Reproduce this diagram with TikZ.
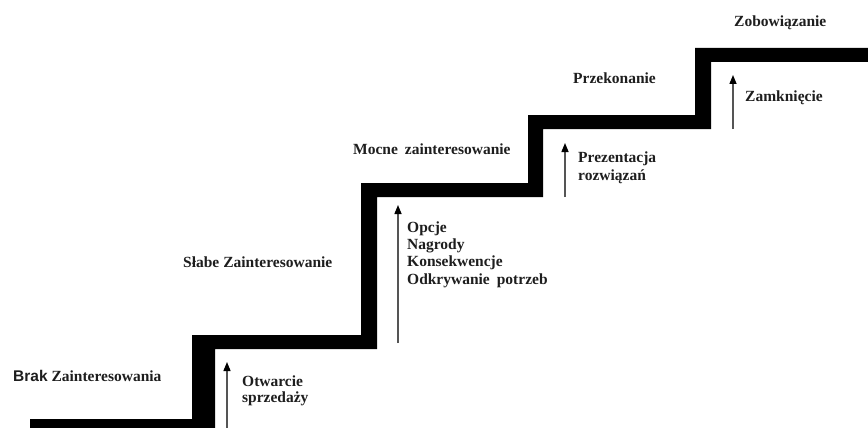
\documentclass[tikz,border=0pt]{standalone}
\usepackage{fontspec}
\setmainfont{Liberation Serif}
\newfontfamily\labsans{Liberation Sans}
\usetikzlibrary{arrows.meta}
\definecolor{txt}{HTML}{1E1E1E}
\definecolor{arrgray}{HTML}{555555}
\tikzset{
  lab/.style={anchor=base west, inner sep=0pt, text=txt, font=\fontsize{15.5}{17}\selectfont\bfseries},
  uparrow/.style={draw=arrgray, line width=1.4pt, -{Triangle[black,length=9pt,width=7pt]}},
  stairs/.style={fill=black, draw=none}
}
\begin{document}
\begin{tikzpicture}[x=1pt,y=-1pt]
\useasboundingbox[fill=white] (0,0) rectangle (868,428);
% staircase
\fill[stairs] (30,419) -- (192,419) -- (192,335) -- (361,335) -- (361,183) -- (528,183)
  -- (528,115) -- (695,115) -- (695,48) -- (875,48) -- (875,62) -- (711,62) -- (711,129)
  -- (543,129) -- (543,197) -- (377,197) -- (377,349) -- (215,349) -- (215,436) -- (30,436) -- cycle;
% labels
\node[lab] (brak) at (13,381) {{\labsans Brak} Zainteresowania};
\node[lab] (otw1) at (242,386) {Otwarcie};
\node[lab] (otw2) at (242,402) {sprzedaży};
\node[lab] (slabe) at (183,267) {Słabe Zainteresowanie};
\node[lab] (mocne) at (353,154) {Mocne\hspace{0.2em} zainteresowanie};
\node[lab] (opcje) at (407,232) {Opcje};
\node[lab] (nagr) at (407,249) {Nagrody};
\node[lab] (kons) at (407,266.5) {Konsekwencje};
\node[lab] (odkr) at (407,284) {Odkrywanie\hspace{0.2em} potrzeb};
\node[lab] (przek) at (573,84) {Przekonanie};
\node[lab] (prez1) at (578,162) {Prezentacja};
\node[lab] (prez2) at (578,180) {rozwiązań};
\node[lab] (zamk) at (745,101) {Zamknięcie};
\node[lab] (zobo) at (734,27) {Zobowiązanie};
% arrows
\coordinate (a1s) at (227,432); \coordinate (a1e) at (227,362);
\coordinate (a2s) at (398,343); \coordinate (a2e) at (398,205);
\coordinate (a3s) at (565,197); \coordinate (a3e) at (565,143);
\coordinate (a4s) at (733,129); \coordinate (a4e) at (733,75);
\draw[uparrow] (a1s) -- (a1e);
\draw[uparrow] (a2s) -- (a2e);
\draw[uparrow] (a3s) -- (a3e);
\draw[uparrow] (a4s) -- (a4e);
\end{tikzpicture}
\end{document}
